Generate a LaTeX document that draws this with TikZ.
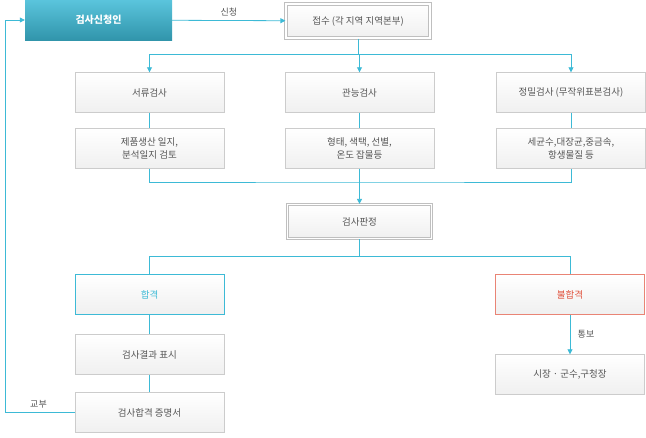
\documentclass[tikz,border=0pt]{standalone}
\usepackage{fontspec}
\setmainfont{Noto Sans CJK KR}
\usetikzlibrary{arrows.meta}
\definecolor{flowline}{HTML}{3DBAD6}
\definecolor{boxline}{HTML}{CCCCCC}
\definecolor{txtgray}{HTML}{555555}
\definecolor{failred}{HTML}{E0503A}
\tikzset{
  box/.style={draw=boxline, top color=white, bottom color=black!6, text=txtgray,
    minimum width=149pt, minimum height=40pt, inner sep=1pt, align=center,
    font=\fontsize{9.5}{13}\selectfont},
  mainbox/.style={box, draw=black!25, double=white, double distance=1.5pt, line width=1.2pt,
    minimum width=144pt, minimum height=34pt},
  link/.style={flowline, line width=0.8pt},
  arr/.style={link, -{Triangle[width=5pt,length=5pt]}},
  lbl/.style={text=txtgray, font=\fontsize{9}{11}\selectfont}
}
\begin{document}
\begin{tikzpicture}[x=1pt,y=-1pt]
\useasboundingbox (0,0) rectangle (646,437);

% Applicant and reception
\node[box, draw=none, top color=flowline!85!white, bottom color=flowline!80!black, text=white,
  font=\fontsize{10}{12}\bfseries\selectfont, minimum width=147pt] (apply) at (98.5,20) {검사신청인};
\node[mainbox] (recv) at (358,21) {접수 (각 지역 지역본부)};
\draw[arr] (apply) -- node[lbl, above=1pt] {신청} (recv);

% Inspections
\node[box] (doc) at (149.5,92.5) {서류검사};
\node[box] (sense) at (359.5,92.5) {관능검사};
\node[box] (lab) at (571,92.5) {정밀검사 (무작위표본검사)};
\node[box] (docx) at (149.5,148.5) {제품생산 일지,\\분석일지 검토};
\node[box] (sensex) at (359.5,148.5) {형태, 색택, 선별,\\온도 잡물등};
\node[box] (labx) at (571,148.5) {세균수,대장균,중금속,\\항생물질 등};
\foreach \a/\b in {doc/docx, sense/sensex, lab/labx}
  \draw[link] (\a) -- (\b);

\coordinate (split) at (359.5,54);
\draw[link] (recv.south) |- (split);
\draw[arr] (split) -| (doc.north);
\draw[arr] (split) -- (sense.north);
\draw[arr] (split) -| (lab.north);

% Judgement
\node[mainbox] (judge) at (359.5,221.5) {검사판정};
\coordinate (join) at (359.5,182);
\draw[link] (docx.south) |- (join) -| (labx.south);
\draw[arr] (sensex.south) -- (judge.north);

% Results
\node[box, draw=flowline, text=flowline] (pass) at (149.5,294.5) {합격};
\node[box, draw=failred!70!white, text=failred] (fail) at (570,294.5) {불합격};
\node[box] (mark) at (149.5,354.5) {검사결과 표시};
\node[box] (cert) at (149.5,412.5) {검사합격 증명서};
\node[box] (mayor) at (570,374.5) {시장 · 군수,구청장};
\coordinate (fork) at (359.5,256);
\draw[link] (judge.south) -- (fork);
\draw[link] (fork) -| (pass.north);
\draw[link] (fork) -| (fail.north);
\draw[link] (pass) -- (mark);
\draw[link] (mark) -- (cert);
\draw[arr] (fail) -- node[lbl, right=4pt] {통보} (mayor);

% Issue back to applicant
\coordinate (back) at (5,412.5);
\draw[arr] (cert.west) -- node[lbl, above=1pt, pos=0.52] {교부} (back) |- (apply.west);
\end{tikzpicture}
\end{document}
